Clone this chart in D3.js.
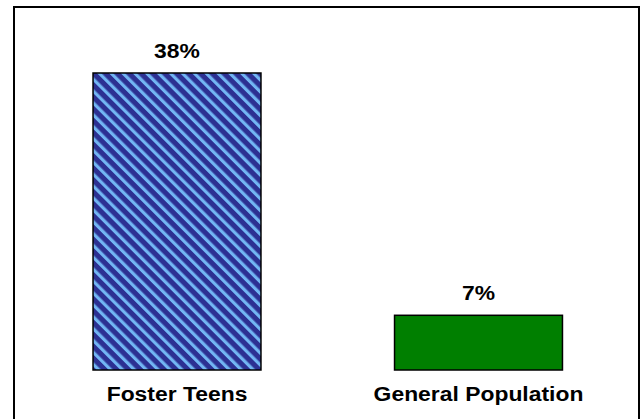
<!DOCTYPE html>
<html>
<head>
<meta charset="utf-8">
<script src="https://cdn.jsdelivr.net/npm/d3@7"></script>
<style>
  html, body { margin: 0; padding: 0; background: #fff; }
  svg { display: block; }
  text { font-family: "Liberation Sans", Arial, sans-serif; font-weight: bold; }
</style>
</head>
<body>
<svg id="chart"></svg>
<script>
const categories = ["Foster Teens", "General Population"];
const values = [38, 7];
const valueLabels = ["38%", "7%"];

const width = 641, height = 419;
const svg = d3.select("#chart")
    .attr("width", width)
    .attr("height", height);

// stripe pattern for the first bar
const defs = svg.append("defs");
const pat = defs.append("pattern")
    .attr("id", "stripes")
    .attr("patternUnits", "userSpaceOnUse")
    .attr("width", 8.4)
    .attr("height", 8.4)
    .attr("patternTransform", "rotate(-45)");
pat.append("rect")
    .attr("width", 8.4).attr("height", 8.4)
    .attr("fill", "#2c3092");
pat.append("rect")
    .attr("x", 0).attr("width", 3.2).attr("height", 8.4)
    .attr("fill", "#72b6f4");

const fills = ["url(#stripes)", "#007f00"];

// outer frame (bottom edge runs off the picture)
svg.append("rect")
    .attr("x", 14).attr("y", 7)
    .attr("width", 625).attr("height", 440)
    .attr("fill", "none")
    .attr("stroke", "#000")
    .attr("stroke-width", 2);

const x = d3.scaleBand()
    .domain(categories)
    .range([26.25, 629.25])
    .paddingInner(0.443)
    .paddingOuter(0.2215);

const y = d3.scaleLinear()
    .domain([0, 38])
    .range([370, 73]);

const g = svg.append("g");

g.selectAll(".bar")
    .data(values)
    .enter().append("rect")
    .attr("class", "bar")
    .attr("x", (d, i) => x(categories[i]))
    .attr("y", d => y(d))
    .attr("width", x.bandwidth())
    .attr("height", d => y(0) - y(d))
    .attr("fill", (d, i) => fills[i])
    .attr("stroke", "#000")
    .attr("stroke-width", 1.5);

// value labels
g.selectAll(".val")
    .data(values)
    .enter().append("text")
    .attr("class", "val")
    .attr("transform", (d, i) =>
        `translate(${x(categories[i]) + x.bandwidth() / 2},${y(d) - 15}) scale(1.09,1)`)
    .attr("text-anchor", "middle")
    .attr("font-size", 21)
    .attr("fill", "#000")
    .text((d, i) => valueLabels[i]);

// category labels
g.selectAll(".cat")
    .data(categories)
    .enter().append("text")
    .attr("class", "cat")
    .attr("transform", d => `translate(${x(d) + x.bandwidth() / 2},401) scale(1.09,1)`)
    .attr("text-anchor", "middle")
    .attr("font-size", 21)
    .attr("fill", "#000")
    .text(d => d);
</script>
</body>
</html>
